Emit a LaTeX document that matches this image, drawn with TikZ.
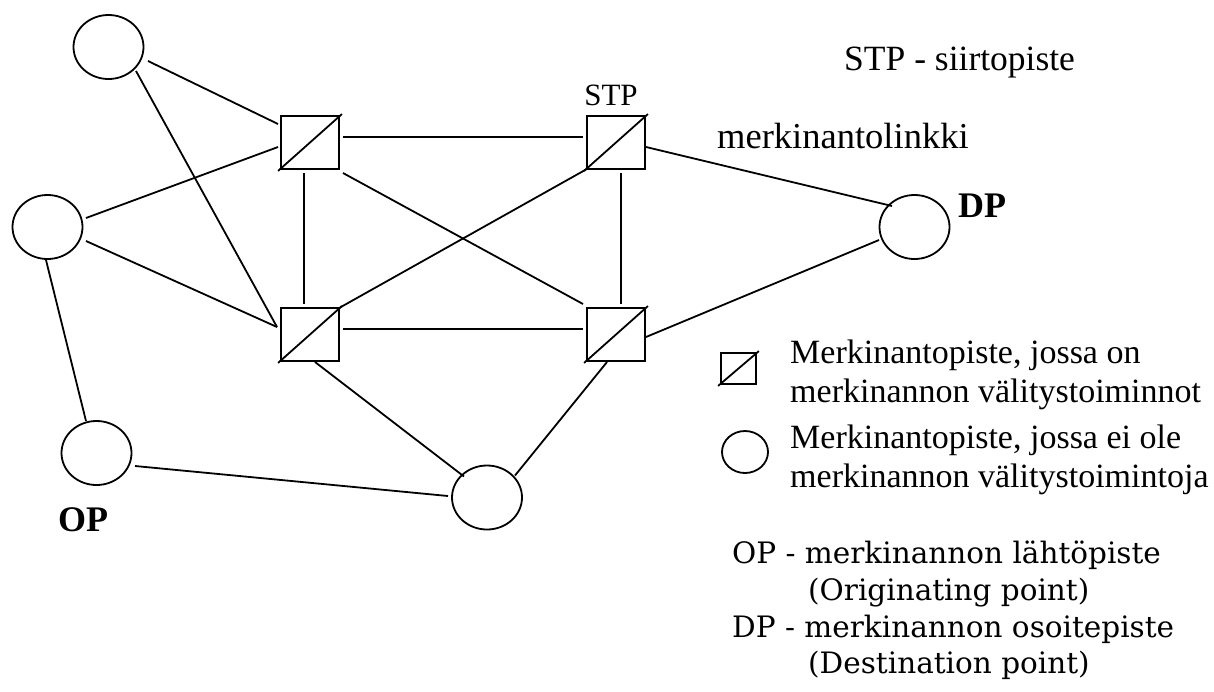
\documentclass[tikz,border=0pt]{standalone}
\usepackage{fontspec}
\setmainfont{Liberation Serif}
\newfontfamily\dvs{DejaVu Serif}
\usetikzlibrary{shapes.geometric,calc}
\begin{document}
\begin{tikzpicture}[x=1pt,y=-1pt,
  link/.style={line width=1.8pt},
  ptnode/.style={draw, line width=1.8pt, ellipse, minimum width=70pt, minimum height=64pt, inner sep=0pt},
  stpnode/.style={draw, line width=1.8pt, rectangle, minimum width=58pt, minimum height=53pt, inner sep=0pt},
  txt/.style={inner sep=0pt, anchor=base west, font=\fontsize{34}{39}\selectfont},
  bottxt/.style={inner sep=0pt, anchor=base west, font=\dvs\fontsize{29.5}{35}\selectfont},
  boldlbl/.style={inner sep=0pt, anchor=base west, font=\bfseries\fontsize{36}{40}\selectfont},
]
\useasboundingbox (0,0) rectangle (1214,691);

% signalling points
\node[ptnode] (TL) at (108.5,47) {};
\node[ptnode] (L) at (47.5,227) {};
\node[ptnode] (O) at (96.5,453) {};
\node[ptnode] (B) at (487,497.5) {};
\node[ptnode] (D) at (914.5,227) {};

% STPs
\node[stpnode] (S1) at (310,142.5) {};
\node[stpnode] (S2) at (616,142.5) {};
\node[stpnode] (S3) at (310,334.5) {};
\node[stpnode] (S4) at (616,334.5) {};
\foreach \s in {S1,S2,S3,S4}{
  \draw[link] ($(\s.south west)+(-2,1)$) -- ($(\s.north east)+(2,-1)$);
}

% links
\draw[link] ($(TL)+(39.5,14)$) -- ($(S1)+(-32,-18.5)$);
\draw[link] ($(TL)+(27.5,24)$) -- ($(S3)+(-33,-7.5)$);
\draw[link] ($(L)+(38.5,-9)$) -- ($(S1)+(-32,4.5)$);
\draw[link] ($(L)+(38.5,14)$) -- ($(S3)+(-33,-7.5)$);
\draw[link] ($(L)+(-1.5,33)$) -- ($(O)+(-10.5,-32)$);
\draw[link] ($(O)+(38.5,13)$) -- ($(B)+(-39,-1.5)$);
\draw[link] ($(S1)+(-6,30.5)$) -- ($(S3)+(-6,-30.5)$);
\draw[link] ($(S1)+(33,-5.5)$) -- ($(S2)+(-33,-5.5)$);
\draw[link] ($(S1)+(33,30.5)$) -- ($(S4)+(-33,-30.5)$);
\draw[link] ($(S3)+(30,-27)$) -- ($(S2)+(-30,27)$);
\draw[link] ($(S3)+(33,-5.5)$) -- ($(S4)+(-33,-5.5)$);
\draw[link] ($(S3)+(5,27.5)$) -- ($(B)+(-23,-21)$);
\draw[link] ($(S2)+(5,30.5)$) -- ($(S4)+(5,-30.5)$);
\draw[link] ($(S2)+(30,4.5)$) -- ($(D)+(-22.5,-21)$);
\draw[link] ($(S4)+(30,2.5)$) -- ($(D)+(-35.5,13)$);
\draw[link] ($(S4)+(-9,27.5)$) -- ($(B)+(28,-22)$);

% labels
\node[inner sep=0pt, anchor=base, font=\fontsize{31}{36}\selectfont] (stplbl) at (611,105) {STP};
\node[txt, font=\fontsize{35.5}{40}\selectfont] (stpdef) at (844,70) {STP - siirtopiste};
\node[txt, font=\fontsize{36.5}{40}\selectfont] (linklbl) at (717,148) {merkinantolinkki};
\node[boldlbl] (dplbl) at (958,217) {DP};
\node[boldlbl] (oplbl) at (58,531) {OP};

% legend
\node[draw, line width=1.8pt, rectangle, minimum width=35pt, minimum height=31pt, inner sep=0pt] (LS) at (738.5,368.5) {};
\draw[link] ($(LS.south west)+(-2,1)$) -- ($(LS.north east)+(2,-1)$);
\node[draw, line width=1.8pt, ellipse, minimum width=46pt, minimum height=42pt, inner sep=0pt] (LC) at (745,452) {};
\node[txt] (lg1) at (790,363) {Merkinantopiste, jossa on};
\node[txt] (lg2) at (790,402) {merkinannon välitystoiminnot};
\node[txt] (lg3) at (790,448) {Merkinantopiste, jossa ei ole};
\node[txt] (lg4) at (790,487) {merkinannon välitystoimintoja};

% bottom definitions
\node[bottxt] (opdef) at (732,563) {OP - merkinannon lähtöpiste};
\node[bottxt] (openg) at (808,600) {(Originating point)};
\node[bottxt] (dpdef) at (732,637) {DP - merkinannon osoitepiste};
\node[bottxt] (dpeng) at (808,673) {(Destination point)};
\end{tikzpicture}
\end{document}
